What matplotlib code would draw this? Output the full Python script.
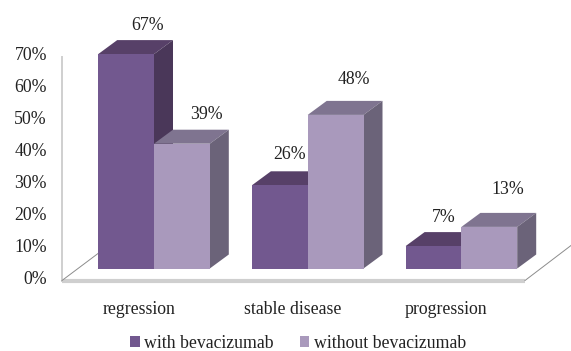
import numpy as np
from matplotlib import pyplot as plt

plt.rcParams['font.family'] = ['Liberation Serif', 'DejaVu Serif']

categories = ["regression", "stable disease", "progression"]
series_names = ["with bevacizumab", "without bevacizumab"]
with_bev = [67, 26, 7]
without_bev = [39, 48, 13]
y_ticks = [0, 10, 20, 30, 40, 50, 60, 70]

front_cols = ["#72588f", "#a999bc"]
top_cols = ["#574068", "#7f7490"]
side_cols = ["#4a3759", "#6b6379"]
frame_col = "#cfcfcf"

# pixels per unit on the axes below
px_x = 153.7
px_y = 3.2

bar_w = 55.8/px_x
depth_x = 19/px_x
depth_y = 14/px_y
floor_y = -12/px_y          # the front edge of the floor sits below the bars

# label offsets from the top of each bar, in pixels
label_dx = [[21, 25], [10, 18], [10, 18]]
label_dy = [[29, 29], [31, 35], [29, 37]]

fig = plt.figure(figsize=(5.71, 3.51), dpi=100)
ax = fig.add_axes([0, 0, 1, 1])
ax.set_xlim(-154/px_x, (571-154)/px_x)
ax.set_ylim((268.5-351)/px_y, 268.5/px_y)
ax.axis("off")

# floor and back wall
wall_x = (62-154)/px_x
floor_right = (525-154)/px_x
ax.plot([wall_x, wall_x], [floor_y, 70+floor_y], color=frame_col, lw=1.4, zorder=1)
ax.plot([wall_x, floor_right], [floor_y-0.3, floor_y-0.3], color=frame_col, lw=3, zorder=1,
        solid_capstyle="butt")
ax.plot([wall_x, wall_x+36/px_x], [floor_y, floor_y+27/px_y], color="#8c8c8c", lw=0.7, zorder=1)
ax.plot([floor_right, floor_right+46/px_x], [floor_y, floor_y+35/px_y], color="#8c8c8c", lw=0.7,
        zorder=1)

x = np.arange(len(categories))
all_values = [with_bev, without_bev]

for g in x:
    for s, values in enumerate(all_values):
        v = values[g]
        left = g + (s-1)*bar_w
        right = left + bar_w
        z = 2 + g + s/2
        ax.bar(left, v, width=bar_w, align="edge", color=front_cols[s], label=series_names[s] if g == 0 else None,
               linewidth=0, zorder=z+0.2)
        # top face
        ax.fill([left, right, right+depth_x, left+depth_x],
                [v, v, v+depth_y, v+depth_y], color=top_cols[s], lw=0, zorder=z)
        # side face
        ax.fill([right, right+depth_x, right+depth_x, right],
                [0, depth_y, v+depth_y, v], color=side_cols[s], lw=0, zorder=z)
        ax.text(left+bar_w/2+label_dx[g][s]/px_x, v+label_dy[g][s]/px_y, f"{v}%",
                ha="center", va="center", fontsize=12.8, color="#222222", zorder=10)

# tick labels follow the wall, which is shifted down from the bars
for t in y_ticks:
    ax.text(47/px_x-154/px_x, t+floor_y+1/px_y, f"{t}%", ha="right", va="center", fontsize=12.8, color="#222222")

for g, name in zip(x, categories):
    ax.text(g-15/px_x, (268.5-309)/px_y, name, ha="center", va="center", fontsize=12.8, color="#222222")

handles, labels = ax.get_legend_handles_labels()
fig.legend(handles, labels, loc="center", bbox_to_anchor=(298/571, 1-343/351), ncol=2, frameon=False,
           fontsize=12.8, handlelength=0.55, handleheight=0.55, handletextpad=0.25, columnspacing=1.45,
           labelcolor="#222222")

fig.savefig("out.png", dpi=100)
